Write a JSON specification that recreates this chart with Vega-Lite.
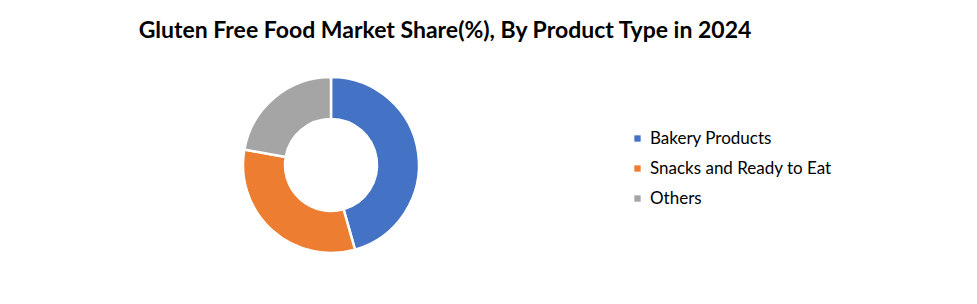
{
  "$schema": "https://vega.github.io/schema/vega-lite/v6.json",
  "autosize": {"type": "none"},
  "width": 662,
  "height": 278,
  "padding": {"left": 0, "top": 26, "right": 315, "bottom": 0},
  "background": "white",
  "title": {
    "text": "Gluten Free Food  Market Share(%), By Product Type in 2024",
    "font": "Lato",
    "fontSize": 23,
    "fontWeight": "bold",
    "color": "#000000",
    "anchor": "middle",
    "baseline": "alphabetic",
    "offset": 0,
    "dx": 114,
    "dy": 35
  },
  "data": {
    "values": [
      {"type": "Bakery Products", "share": 45.6, "ord": 1},
      {"type": "\u2002Snacks and Ready to Eat", "share": 32.2, "ord": 2},
      {"type": "\u2002Others", "share": 22.2, "ord": 3}
    ]
  },
  "mark": {"type": "arc", "outerRadius": 88, "innerRadius": 46, "stroke": "white", "strokeWidth": 2.5},
  "encoding": {
    "theta": {"field": "share", "type": "quantitative", "stack": true},
    "order": {"field": "ord", "type": "quantitative"},
    "color": {
      "field": "type",
      "type": "nominal",
      "sort": null,
      "scale": {
        "domain": ["Bakery Products", "\u2002Snacks and Ready to Eat", "\u2002Others"],
        "range": ["#4472c4", "#ed7d31", "#a5a5a5"]
      },
      "legend": {
        "title": null,
        "orient": "none",
        "legendX": 629,
        "legendY": 104,
        "symbolType": "square",
        "symbolSize": 40,
        "symbolStrokeWidth": 0,
        "labelFont": "Lato",
        "labelFontSize": 17,
        "labelColor": "#000000",
        "labelOffset": 4,
        "labelLimit": 300,
        "rowPadding": 12
      }
    }
  },
  "config": {"view": {"stroke": null}}
}
